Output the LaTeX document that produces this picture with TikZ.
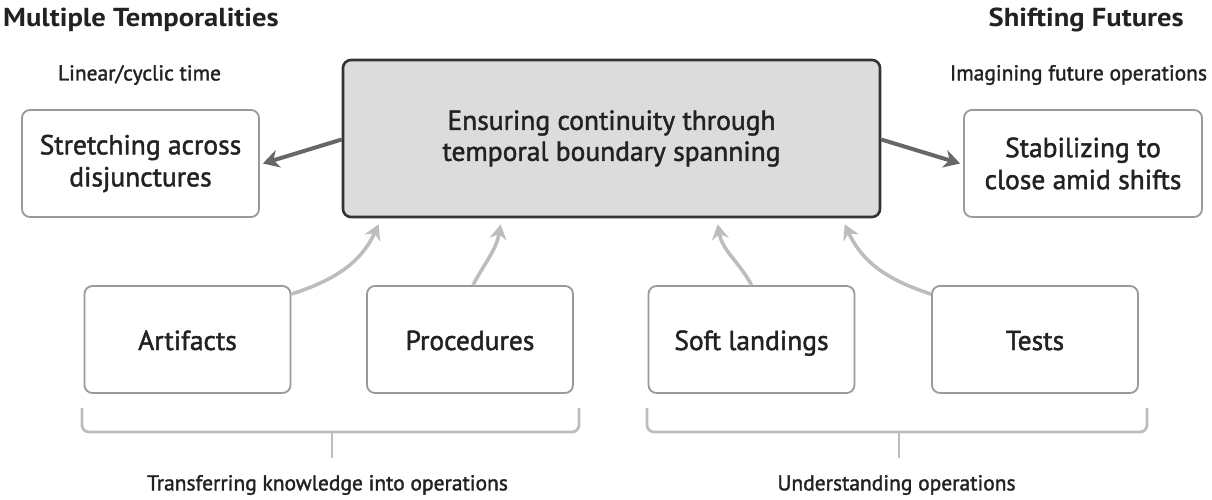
\documentclass[tikz,border=0pt]{standalone}
\usepackage{fontspec}
\setmainfont{PT Sans}
\newfontfamily\medfont{PT Sans}[RawFeature={embolden=1.6}]
\usetikzlibrary{arrows.meta}
\definecolor{boxline}{HTML}{9A9A9A}
\definecolor{ctrfill}{HTML}{DCDCDC}
\definecolor{ctrline}{HTML}{333333}
\definecolor{darkarrow}{HTML}{676767}
\definecolor{lightarrow}{HTML}{BDBDBD}
\definecolor{txt}{HTML}{222222}
\tikzset{
  smallbox/.style={draw=boxline, line width=1.8pt, rounded corners=8pt, fill=white,
    align=center, text=txt, font=\medfont\fontsize{27.5}{32}\selectfont, inner sep=0pt},
  onebox/.style={smallbox, minimum width=206pt, minimum height=107pt, text height=27pt, text depth=6pt},
  ctrbox/.style={draw=ctrline, fill=ctrfill, line width=2.6pt, rounded corners=8pt,
    align=center, text=txt, font=\medfont\fontsize{27.5}{31}\selectfont, inner sep=0pt},
  title/.style={font=\fontsize{26}{30}\selectfont\bfseries, text=txt, inner sep=0pt},
  subtitle/.style={font=\medfont\fontsize{21.5}{25}\selectfont, text=txt, inner sep=0pt},
  darrow/.style={draw=darkarrow, line width=4pt, -{Stealth[length=16pt,width=18pt,inset=5pt]}},
  larrow/.style={draw=lightarrow, line width=3.6pt, -{Stealth[length=15pt,width=17pt,inset=5pt]}},
  brace/.style={draw=lightarrow, line width=2.8pt, rounded corners=7pt},
}
\begin{document}
\begin{tikzpicture}[x=1pt,y=1pt]
\useasboundingbox (0,0) rectangle (1212,499);
% titles
\node[title, anchor=west] (t1) at (3,479) {\scalebox{1.1}[1]{Multiple Temporalities}};
\node[title, anchor=east] (t2) at (1184,479) {\scalebox{1.1}[1]{Shifting Futures}};
\node[subtitle] (s1) at (139.5,424) {Linear/cyclic time};
\node[subtitle] (s2) at (1078.5,424) {Imagining future operations};
% boxes
\node[ctrbox, minimum width=537pt, minimum height=157pt] (ctr) at (611.5,360.5)
  {Ensuring continuity through\\temporal boundary spanning};
\node[smallbox, minimum width=237pt, minimum height=107pt] (lb) at (140.5,335.5)
  {Stretching across\\disjunctures};
\node[smallbox, minimum width=238pt, minimum height=107pt] (rb) at (1083,335.5)
  {Stabilizing to\\close amid shifts};
\node[onebox] (art) at (187.5,159.5) {Artifacts};
\node[onebox] (proc) at (470,159.5) {Procedures};
\node[onebox] (soft) at (751.5,159.5) {Soft landings};
\node[onebox] (tests) at (1035,159.5) {Tests};
% dark arrows
\draw[darrow] ([yshift=-1pt]ctr.west) -- ([xshift=3pt]lb.east);
\draw[darrow] ([yshift=-1pt]ctr.east) -- ([xshift=-3pt]rb.west);
% light arrows
\draw[larrow] ([yshift=-9pt]art.north east) to[out=18,in=-115] ([xshift=37pt,yshift=-6pt]ctr.south west);
\draw[larrow] ([xshift=3pt]proc.north) to[out=62,in=-100] ([xshift=159pt,yshift=-6pt]ctr.south west);
\draw[larrow] (soft.north) to[out=118,in=-80] ([xshift=376pt,yshift=-6pt]ctr.south west);
\draw[larrow] ([yshift=-9pt]tests.north west) to[out=162,in=-65] ([xshift=503pt,yshift=-6pt]ctr.south west);
% braces
\coordinate (b1a) at (82,91); \coordinate (b1b) at (579,91);
\draw[brace] (b1a) -- (82,67) -- (579,67) -- (b1b);
\coordinate (b1m) at (332,67);
\draw[draw=lightarrow, line width=2.8pt] (b1m) -- (332,41);
\coordinate (b2a) at (647,91); \coordinate (b2b) at (1147,91);
\draw[brace] (b2a) -- (647,67) -- (1147,67) -- (b2b);
\coordinate (b2m) at (899,67);
\draw[draw=lightarrow, line width=2.8pt] (b2m) -- (899,41);
\node[subtitle] (l1) at (327.5,14) {Transferring knowledge into operations};
\node[subtitle] (l2) at (896.5,14) {Understanding operations};
\end{tikzpicture}
\end{document}
